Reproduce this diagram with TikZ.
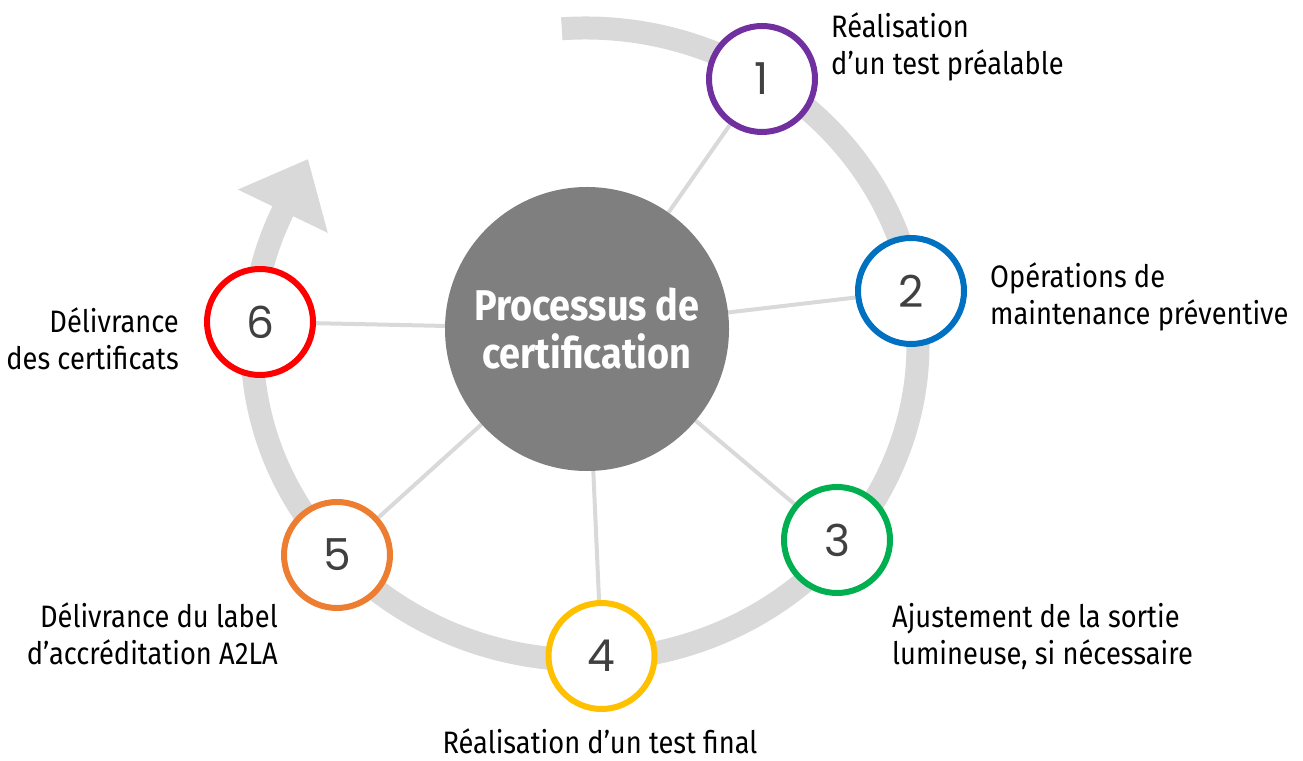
\documentclass[tikz,border=0pt]{standalone}
\usepackage{fontspec}
\setmainfont{Fira Sans}[FakeStretch=0.88]
\newfontfamily\numfont{Poppins}
\usetikzlibrary{arrows.meta,calc,backgrounds}
\definecolor{ringgray}{HTML}{D9D9D9}
\definecolor{hubgray}{HTML}{7F7F7F}
\definecolor{numgray}{HTML}{404040}
\definecolor{stepA}{HTML}{7030A0}
\definecolor{stepB}{HTML}{0070C0}
\definecolor{stepC}{HTML}{00B050}
\definecolor{stepD}{HTML}{FFC000}
\definecolor{stepE}{HTML}{ED7D31}
\definecolor{stepF}{HTML}{FF0000}
\begin{document}
\begin{tikzpicture}[x=1pt, y=1pt,
            hub/.style={circle, fill=hubgray, minimum size=284pt, inner sep=0pt, text=white, align=center, font=\fontsize{43}{48}\selectfont\bfseries},
            stepnode/.style={circle, draw=#1, line width=6pt, fill=white, minimum size=106pt, inner sep=0pt, text=numgray, font=\numfont\fontsize{44}{44}\selectfont},
            lbl/.style={inner sep=0pt, font=\fontsize{31}{37.5}\selectfont},
            spoke/.style={draw=ringgray, line width=4pt},
            ring/.style={draw=ringgray, line width=23pt, -{Triangle[length=58pt, width=96pt]}}
        ]
        \useasboundingbox (0,0) rectangle (1303,760);
        % Centre
        \coordinate (ctr) at (585,416);
        \node[hub] (hub) at (587,431) {Processus de\\certification};
        % Steps
        \node[stepnode=stepA] (s1) at (762,681) {1};
        \node[stepnode=stepB] (s2) at (911,469) {2};
        \node[stepnode=stepC] (s3) at (837,220) {3};
        \node[stepnode=stepD] (s4) at (601.5,104) {4};
        \node[stepnode=stepE] (s5) at (337,205) {5};
        \node[stepnode=stepF] (s6) at (260,438) {6};
        % Labels (base = last line)
        \node[lbl, anchor=base west, align=left] (l1) at (831,685) {Réalisation\\d’un test préalable};
        \node[lbl, anchor=base west, align=left] (l2) at (990,435) {Opérations de\\maintenance préventive};
        \node[lbl, anchor=base west, align=left] (l3) at (892,95) {Ajustement de la sortie\\lumineuse, si nécessaire};
        \node[lbl, anchor=base] (l4) at (600,7) {Réalisation d’un test final};
        \node[lbl, anchor=base east, align=right] (l5) at (278,95) {Délivrance du label\\d’accréditation A2LA};
        \node[lbl, anchor=base east, align=right] (l6) at (179,390) {Délivrance\\des certificats};
        % Ring and spokes
        \begin{pgfonlayer}{background}
            \coordinate (tip) at (308,601);
            \draw[ring] ($(ctr)+(94:333 and 316)$) arc[start angle=94, end angle=-204.8, x radius=333, y radius=316] -- (tip);
            \foreach \s in {s1,s2,s3,s4,s5,s6}
                \draw[spoke] (hub) -- (\s);
        \end{pgfonlayer}
    \end{tikzpicture}
\end{document}
